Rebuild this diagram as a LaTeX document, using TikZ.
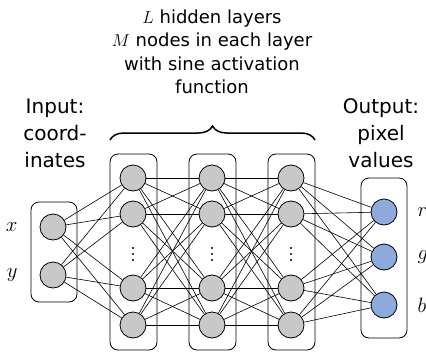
\documentclass[tikz,border=0pt]{standalone}
\usepackage{fontspec}
\setmainfont{DejaVu Sans}
\usetikzlibrary{positioning,decorations.pathreplacing}
\definecolor{nodegray}{RGB}{200,200,200}
\definecolor{outblue}{RGB}{142,169,219}

\tikzset{
  neuron/.style={circle,draw,line width=0.8pt,fill=nodegray,minimum size=26pt,inner sep=0pt},
  outneuron/.style={neuron,fill=outblue},
  layerbox/.style={draw,line width=0.8pt,rounded corners=8pt},
  caption/.style={align=center,font=\fontsize{18}{23.5}\selectfont},
  sidecaption/.style={align=center,font=\fontsize{20}{27}\selectfont},
  varlabel/.style={font=\fontsize{22}{24}\selectfont,inner sep=0pt},
  wire/.style={draw,line width=0.6pt}
}

\begin{document}
\begin{tikzpicture}[x=1pt,y=-1pt]
\useasboundingbox (0,0) rectangle (426,354);
%% the layer boxes
\draw[layerbox] (31,202) rectangle (77,302);
\draw[layerbox] (110,154) rectangle (157,350);
\draw[layerbox] (189,154) rectangle (236,350);
\draw[layerbox] (268,154) rectangle (315,350);
\draw[layerbox] (361,178) rectangle (407,338);
%the nodes
\node [neuron] (inX) at (53,227) {};
\node [neuron] (inY) at (53,275) {};
\foreach \l/\xx in {1/133,2/212,3/291}{
  \node [neuron] (h\l a) at (\xx,178) {};
  \node [neuron] (h\l b) at (\xx,214) {};
  \node [neuron] (h\l c) at (\xx,288) {};
  \node [neuron] (h\l d) at (\xx,325) {};
  % the dots between the nodes
  \foreach \yy in {248,254,260}
    \fill (\xx,\yy) circle (1.2pt);
}
\node [outneuron] (outR) at (384,212) {};
\node [outneuron] (outG) at (384,257) {};
\node [outneuron] (outB) at (384,305) {};
%drawings of lines
\foreach \i in {inX,inY}
  \foreach \j in {a,b,c,d}
    \draw[wire] (\i) -- (h1\j);
\foreach \i in {a,b,c,d}
  \foreach \j in {a,b,c,d}{
    \draw[wire] (h1\i) -- (h2\j);
    \draw[wire] (h2\i) -- (h3\j);
  }
\foreach \i in {a,b,c,d}
  \foreach \j in {outR,outG,outB}
    \draw[wire] (h3\i) -- (\j);
%labels
\node [sidecaption] (inLabel) at (55,133) {Input:\\coord-\\inates};
\node [sidecaption] (outLabel) at (381,133) {Output:\\pixel\\values};
\node [caption] (hiddenLabel) at (212,52) {$L$ hidden layers\\$M$ nodes in each layer\\with sine activation\\function};
\node [varlabel,left=22pt of inX] (labX) {$x$};
\node [varlabel,left=22pt of inY] (labY) {$y$};
\node [varlabel,right=20pt of outR] (labR) {$r$};
\node [varlabel,right=20pt of outG] (labG) {$g$};
\node [varlabel,right=20pt of outB] (labB) {$b$};
%the brace
\draw[line width=1.5pt,decorate,decoration={brace,amplitude=14pt}]
  (110,140) -- (315,140);
\end{tikzpicture}
\end{document}
